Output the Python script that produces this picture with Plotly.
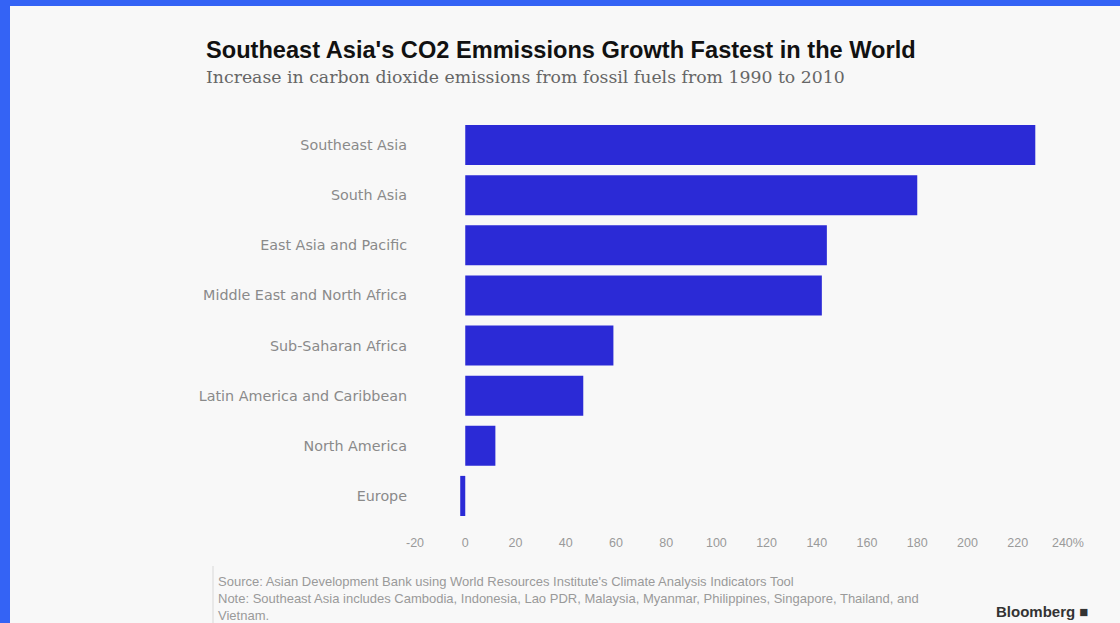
import plotly.graph_objects as go

regions = ["Southeast Asia", "South Asia", "East Asia and Pacific",
           "Middle East and North Africa", "Sub-Saharan Africa",
           "Latin America and Caribbean", "North America", "Europe"]
increase_pct = [227, 180, 144, 142, 59, 47, 12, -2]
tick_vals = [-20, 0, 20, 40, 60, 80, 100, 120, 140, 160, 180, 200, 220, 240]
tick_text = ["-20", "0", "20", "40", "60", "80", "100", "120", "140", "160",
             "180", "200", "220", "240%"]

W, H = 1120, 623
L, R, T, B = 410, 37, 120, 102
pw, ph = W - L - R, H - T - B

def px(x):
    return (x - L) / pw

def py(y):
    return (H - B - y) / ph

fig = go.Figure(go.Bar(
    x=increase_pct, y=regions, orientation="h",
    marker=dict(color="#2b2ad6", line=dict(width=0)),
    width=0.8,
))

shapes = [
    dict(type="rect", xref="paper", yref="paper", x0=px(10), x1=px(W), y0=py(H), y1=py(6),
         fillcolor="#f8f8f8", line=dict(width=0), layer="below"),
    dict(type="line", xref="paper", yref="paper", x0=px(213), x1=px(213), y0=py(566), y1=py(H),
         line=dict(color="#d8d8d8", width=1), layer="below"),
]

annotations = [
    dict(text="<b>Southeast Asia's CO2 Emmissions Growth Fastest in the World</b>",
         xref="paper", yref="paper", x=px(204), y=py(50), xanchor="left", yanchor="middle",
         showarrow=False, font=dict(family="Liberation Sans", size=23.6, color="#111111")),
    dict(text="Increase in carbon dioxide emissions from fossil fuels from 1990 to 2010",
         xref="paper", yref="paper", x=px(204), y=py(77), xanchor="left", yanchor="middle",
         showarrow=False, font=dict(family="DejaVu Serif", size=17.3, color="#666666")),
    dict(text="Source: Asian Development Bank using World Resources Institute's Climate Analysis Indicators Tool<br>"
              "Note: Southeast Asia includes Cambodia, Indonesia, Lao PDR, Malaysia, Myanmar, Philippines, Singapore, Thailand, and<br>"
              "Vietnam.",
         xref="paper", yref="paper", x=px(216), y=py(572), xanchor="left", yanchor="top",
         align="left", showarrow=False,
         font=dict(family="Liberation Sans", size=13, color="#9a9a9a")),
    dict(text="<b>Bloomberg</b> ■",
         xref="paper", yref="paper", x=px(1090), y=py(611), xanchor="right", yanchor="middle",
         showarrow=False, font=dict(family="Liberation Sans", size=15, color="#333333")),
]

fig.update_layout(
    width=W, height=H,
    margin=dict(l=L, r=R, t=T, b=B),
    paper_bgcolor="#3463f5",
    plot_bgcolor="rgba(0,0,0,0)",
    showlegend=False,
    shapes=shapes,
    annotations=annotations,
    xaxis=dict(range=[-22, 246], tickvals=tick_vals, ticktext=tick_text,
               showgrid=False, zeroline=False, showline=False, ticks="",
               tickfont=dict(family="Liberation Sans", size=12.5, color="#9a9a9a"),
               ticklabelstandoff=12),
    yaxis=dict(autorange="reversed", showgrid=False, zeroline=False, showline=False,
               ticks="", tickfont=dict(family="DejaVu Sans", size=14.3, color="#8a8a8a"),
               ticklabelstandoff=2),
    bargap=0.2,
)

fig.write_html("out.html", config={"displayModeBar": False},
               post_script="document.body.style.margin='0';document.body.style.overflow='hidden';")
